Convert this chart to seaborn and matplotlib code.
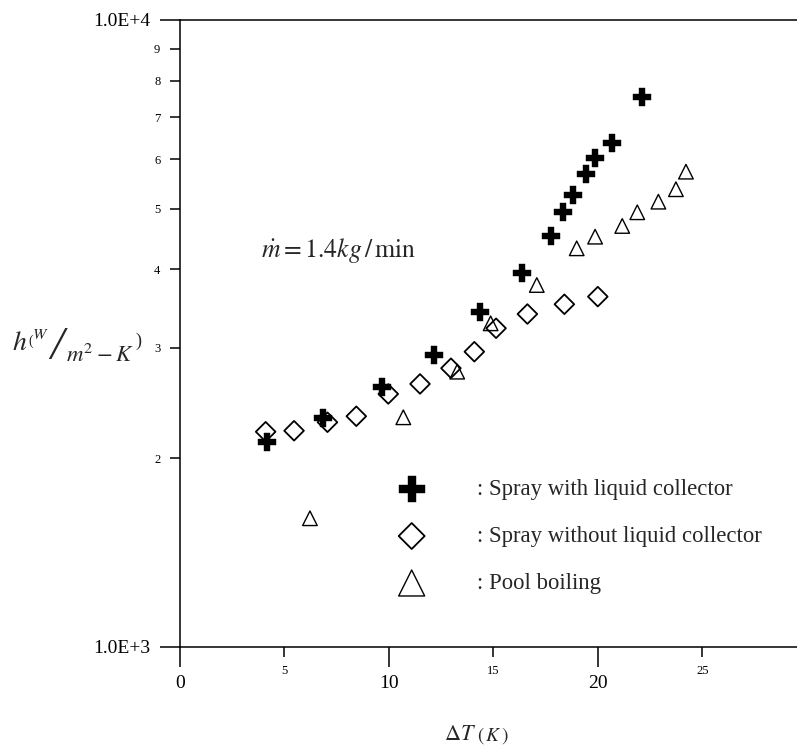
import pandas as pd
import matplotlib
matplotlib.use("Agg")
import matplotlib.pyplot as plt
from matplotlib.ticker import FixedLocator, FixedFormatter
import seaborn as sns

# --- values: wall superheat dT (K) vs h (W/m2-K)
dt_collector = [4.15, 6.83, 9.65, 12.16, 14.36, 16.36, 17.76, 18.32, 18.80, 19.42, 19.87, 20.67, 22.10]
h_collector = [2124, 2315, 2594, 2921, 3420, 3943, 4527, 4934, 5258, 5673, 6030, 6359, 7544]

dt_no_collector = [4.10, 5.46, 7.06, 8.44, 9.97, 11.49, 12.97, 14.09, 15.13, 16.63, 18.40, 20.00]
h_no_collector = [2203, 2211, 2281, 2332, 2531, 2626, 2782, 2956, 3222, 3395, 3519, 3619]

dt_pool = [6.22, 10.69, 13.27, 14.87, 17.08, 18.99, 19.87, 21.17, 21.89, 22.90, 23.74, 24.22]
h_pool = [1603, 2323, 2747, 3281, 3777, 4322, 4511, 4692, 4934, 5130, 5370, 5728]

series_labels = [": Spray with liquid collector",
                 ": Spray without liquid collector",
                 ": Pool boiling"]

x_major = [0, 10, 20]
x_major_labels = ["0", "10", "20"]
x_minor = [5, 15, 25]
x_minor_labels = ["5", "15", "25"]
y_major = [1000, 10000]
y_major_labels = ["1.0E+3", "1.0E+4"]
y_minor = [2000, 3000, 4000, 5000, 6000, 7000, 8000, 9000]
y_minor_labels = ["2", "3", "4", "5", "6", "7", "8", "9"]

df = pd.concat([
    pd.DataFrame({"dT": dt_collector, "h": h_collector, "series": series_labels[0]}),
    pd.DataFrame({"dT": dt_no_collector, "h": h_no_collector, "series": series_labels[1]}),
    pd.DataFrame({"dT": dt_pool, "h": h_pool, "series": series_labels[2]}),
], ignore_index=True)

# ==============================================================================
# style
# ==============================================================================
sns.set_style("ticks")
plt.rcParams["font.family"] = ["Liberation Serif", "DejaVu Serif"]
plt.rcParams["mathtext.fontset"] = "stix"

W, H = 797, 751
fig = plt.figure(figsize=(W / 100, H / 100), dpi=100)
ax = fig.add_axes([180 / W, (H - 646.7) / H, (W - 180) / W, (646.7 - 20) / H])

styles = {
    series_labels[0]: dict(marker="P", s=165, color="black", edgecolor="black", linewidth=0.3, zorder=4),
    series_labels[1]: dict(marker="D", s=100, color="black", facecolor="none", edgecolor="black", linewidth=1.3, zorder=3),
    series_labels[2]: dict(marker="^", s=110, color="black", facecolor="none", edgecolor="black", linewidth=1.0, zorder=3),
}
for name, st in styles.items():
    sns.scatterplot(data=df[df["series"] == name], x="dT", y="h", ax=ax, label=name, **st)

ax.set_yscale("log")
ax.set_xlim(0, (W - 180) / 20.89)
ax.set_ylim(1000, 10000)

ax.xaxis.set_major_locator(FixedLocator(x_major))
ax.xaxis.set_major_formatter(FixedFormatter(x_major_labels))
ax.xaxis.set_minor_locator(FixedLocator(x_minor))
ax.xaxis.set_minor_formatter(FixedFormatter(x_minor_labels))
ax.yaxis.set_major_locator(FixedLocator(y_major))
ax.yaxis.set_major_formatter(FixedFormatter(y_major_labels))
ax.yaxis.set_minor_locator(FixedLocator(y_minor))
ax.yaxis.set_minor_formatter(FixedFormatter(y_minor_labels))

ax.tick_params(which="major", direction="out", length=14.4, width=1.1, labelsize=14, pad=6, colors="black")
ax.tick_params(which="minor", direction="out", length=7.2, width=1.1, labelsize=9, pad=6, colors="black")
ax.tick_params(axis="y", which="both", pad=7)
ax.spines["right"].set_visible(False)
for side in ["left", "bottom", "top"]:
    ax.spines[side].set_linewidth(1.1)
    ax.spines[side].set_color("black")
ax.set_xlabel("")
ax.set_ylabel("")

# mass flow note
ax.text((261 - 180) / (W - 180), (646.7 - 256.7) / (646.7 - 20),
        r"$\dot{m}=1.4kg\,/\,\mathrm{min}$", transform=ax.transAxes,
        fontsize=18.5, va="baseline", ha="left")

# y title, pieced together: h (W / m^2-K)
def px_text(x, y, s, size, **kw):
    fig.text(x / W, 1 - y / H, s, fontsize=size, va="baseline", ha="left", **kw)

px_text(12, 350, r"$h$", 20)
px_text(28, 345, "(", 10)
px_text(32, 339, r"$W$", 11.5)
px_text(50, 359, "/", 34, fontstyle="italic")
px_text(66, 362, r"$m^{2}-K$", 16.5)
px_text(135, 346, ")", 13)

# x title
px_text(444, 740, r"$\Delta T$", 16)
px_text(477, 741, r"$(\,K\,)$", 14)

# legend
handles, labels = ax.get_legend_handles_labels()
leg = ax.legend(handles, labels, loc="center left", bbox_to_anchor=(394.6 / W, 1 - 536.5 / H),
                bbox_transform=fig.transFigure, frameon=False, fontsize=16.4,
                handlelength=1.5, handletextpad=2.1, labelspacing=1.14, borderpad=0, borderaxespad=0)
for hnd, size in zip(leg.legend_handles, [350, 175, 350]):
    hnd.set_sizes([size])

plt.savefig("out.png", dpi=100)
